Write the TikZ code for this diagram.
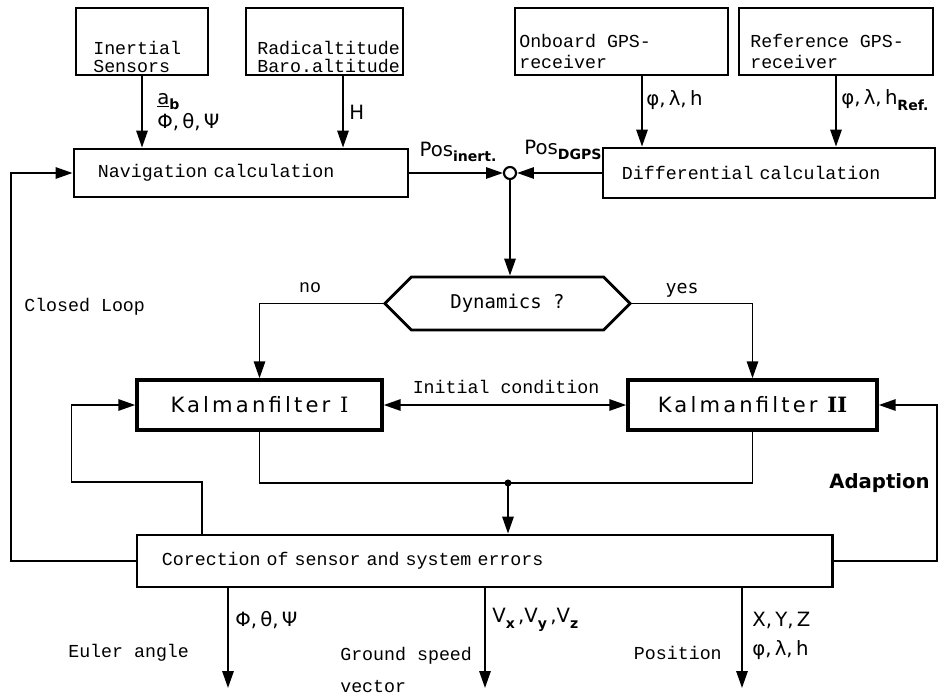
\documentclass[tikz,border=0pt]{standalone}
\usepackage{fontspec}
\usepackage{tikz}
\usetikzlibrary{arrows.meta, shapes.symbols, positioning}
\setmainfont{Liberation Mono}
\newfontfamily\symfont{DejaVu Sans}
\newfontfamily\kalfont[LetterSpace=15]{DejaVu Sans}
\newfontfamily\romfont{DejaVu Serif}
\newfontfamily\dynfont{DejaVu Sans Mono}
\newcommand{\lowsub}[1]{\raisebox{-0.5ex}{\symfont\fontsize{10}{10}\selectfont\bfseries #1}}

\begin{document}
\begin{tikzpicture}[x=0.025cm, y=-0.025cm,
    box/.style={draw, line width=2pt, inner sep=0pt},
    calcbox/.style={box, align=left, font=\fontsize{13}{15}\selectfont},
    kalman/.style={box, line width=2.4pt, minimum height=1.25cm, font=\kalfont\fontsize{15}{18}\selectfont},
    txt/.style={inner sep=0pt, font=\fontsize{13}{13}\selectfont},
    sym/.style={inner sep=0pt, font=\symfont\fontsize{14}{17}\selectfont},
    wire/.style={line width=1.4pt},
    arr/.style={wire, -{Triangle[length=12pt, width=8pt]}},
    dblarr/.style={wire, {Triangle[length=12pt, width=8pt]}-{Triangle[length=12pt, width=8pt]}}]
  \useasboundingbox (0,0) rectangle (952,696);

  % Sensors and receivers
  \foreach \name/\x/\w in {inertial/142/3.3, radio/324.5/3.925, onboard/621.5/5.325, refgps/836/4.85}
      \node[box, minimum width=\w cm, minimum height=1.675cm] (\name) at (\x,41.5) {};
  \node[txt, align=left, anchor=north west, font=\fontsize{13}{12.5}\selectfont] (inertial-txt) at (93,41) {Inertial\\Sensors};
  \node[txt, align=left, anchor=north west, font=\fontsize{13}{12.5}\selectfont] (radio-txt) at (257,41) {Radicaltitude\\Baro.altitude};
  \node[txt, align=left, anchor=north west, font=\fontsize{13}{15}\selectfont] (onboard-txt) at (519,34) {Onboard GPS-\\receiver};
  \node[txt, align=left, anchor=north west, font=\fontsize{13}{15}\selectfont] (refgps-txt) at (750,34) {Reference GPS-\\receiver};

  % Calculation blocks
  \node[calcbox, text width=7.15cm, inner xsep=0.6cm, minimum height=1.2cm] (nav) at (241,173) {Navigation calculation};
  \node[calcbox, text width=7.35cm, inner xsep=0.475cm, minimum height=1.25cm] (diff) at (769,173) {Differential calculation};
  \node[circle, draw, line width=1.5pt, minimum size=0.3cm, inner sep=0pt] (sum) at (510,173) {};

  % Sensor signals
  \draw[arr] (inertial.south) -- (inertial.south |- nav.north);
  \draw[arr] ([xshift=0.4625cm]radio.south) -- ([xshift=0.4625cm]radio.south |- nav.north);
  \draw[arr] ([xshift=0.5125cm]onboard.south) -- ([xshift=0.5125cm]onboard.south |- diff.north);
  \draw[arr] (refgps.south) -- (refgps.south |- diff.north);
  \node[sym, align=left, anchor=north west] (inertial-sym) at (157,93) {\underline{a}\lowsub{b}\\Φ,\,θ,\,Ψ};
  \node[sym, anchor=west] (radio-sym) at (349,112) {H};
  \node[sym, anchor=west] (onboard-sym) at (646,100) {φ,\,λ,\,h};
  \node[sym, anchor=west] (refgps-sym) at (841,100) {φ,\,λ,\,h\lowsub{Ref.}};

  % Position comparison
  \draw[arr] (nav.east) -- (sum.west);
  \draw[arr] (diff.west) -- (sum.east);
  \node[sym] (pos-inert) at (458,152) {Pos\lowsub{inert.}};
  \node[sym] (pos-dgps) at (563,150) {Pos\lowsub{DGPS}};

  % Decision
  \node[box, signal, signal to=east and west, signal pointer angle=90, minimum width=6.125cm, minimum height=1.325cm,
        font=\dynfont\fontsize{13.5}{16}\selectfont] (dyn) at (507.5,303.5) {Dynamics ?};
  \draw[arr] (sum.south) -- (sum.south |- dyn.north);

  % Kalman filters
  \node[kalman, minimum width=6.125cm] (kal1) at (259.5,405) {Kalmanfilter {\romfont I}};
  \node[kalman, minimum width=6.225cm] (kal2) at (752.5,405) {Kalmanfilter {\romfont\bfseries II}};
  \draw[arr] (dyn.west) -| (kal1.north);
  \draw[arr] (dyn.east) -| (kal2.north);
  \node[txt] (no-txt) at (310,288) {no};
  \node[txt, font=\dynfont\fontsize{13}{13}\selectfont] (yes-txt) at (682,290) {yes};
  \draw[dblarr] (kal1.east) -- (kal2.west);
  \node[txt] (init-txt) at (506,387) {Initial condition};

  % Correction
  \node[calcbox, text width=16.125cm, inner xsep=0.625cm, minimum height=1.3cm] (corr) at (484.5,561) {Corection of sensor and system errors};
  \coordinate (joint) at (508,483);
  \draw[wire] (kal1.south) |- (joint) -| (kal2.south);
  \fill (joint) circle[radius=2.5pt];
  \draw[arr] (joint) -- (joint |- corr.north);

  % Feedback loops
  \draw[arr] (corr.west) -- ++(-3.1cm,0) |- (nav.west);
  \draw[arr] ([xshift=1.65cm]corr.north west) -- ++(0,1.3cm) -- ++(-3.25cm,0) |- (kal1.west);
  \draw[arr] (corr.east) -- ++(2.575cm,0) |- (kal2.east);
  \node[txt] (loop-txt) at (24,307) [anchor=west] {Closed Loop};
  \node[inner sep=0pt, anchor=east, font=\symfont\bfseries\fontsize{14}{17}\selectfont] (adapt-txt) at (930,483) {Adaption};

  % Outputs
  \foreach \x [count=\i] in {228,485,742} {
      \coordinate (out-\i) at (\x,688);
      \draw[arr] (corr.south -| out-\i) -- (out-\i);
  }
  \node[sym, anchor=west] (euler-sym) at (235,620) {Φ,\,θ,\,Ψ};
  \node[txt, anchor=west] (euler-txt) at (68,653) {Euler angle};
  \node[sym, anchor=west] (speed-sym) at (492,620) {V\lowsub{x}\,,V\lowsub{y}\,,V\lowsub{z}};
  \node[txt, align=left, anchor=north west, font=\fontsize{13}{23}\selectfont] (speed-txt) at (340,647) {Ground speed\\vector};
  \node[txt, anchor=east] (pos-txt) at (722,653) {Position};
  \node[sym, align=left, anchor=west, font=\symfont\fontsize{14}{21}\selectfont] (pos-sym) at (752,636) {X,\,Y,\,Z\\φ,\,λ,\,h};
\end{tikzpicture}
\end{document}
